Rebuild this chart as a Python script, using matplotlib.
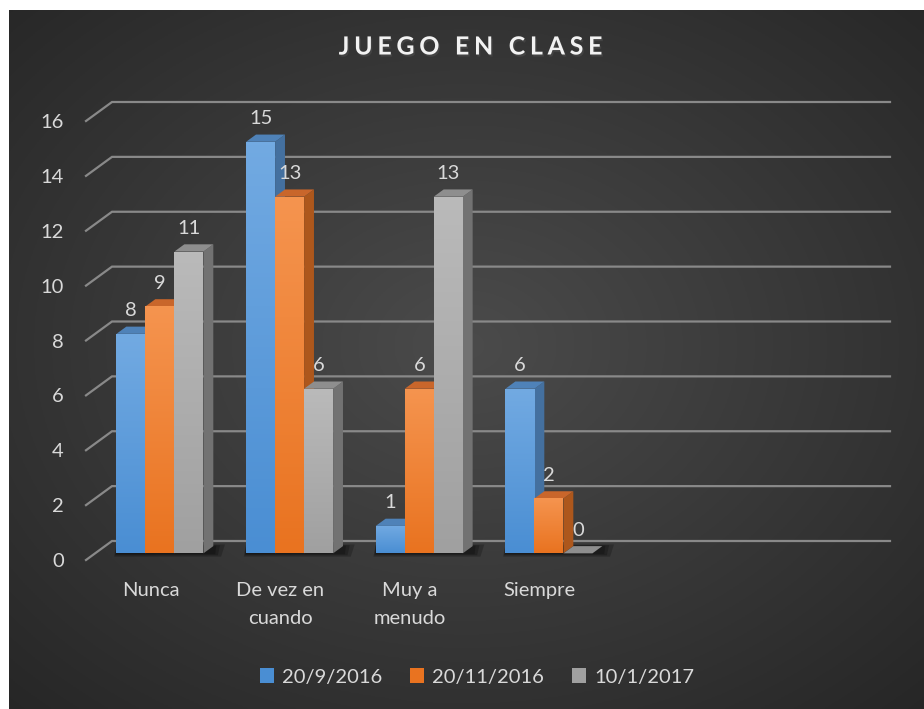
import numpy as np
import matplotlib
matplotlib.use('Agg')
import matplotlib.pyplot as plt
import matplotlib.patheffects as pe
from matplotlib.patches import Polygon, Rectangle, Patch
from matplotlib.colors import LinearSegmentedColormap, to_rgb

# data
categories = ['Nunca', 'De vez en\ncuando', 'Muy a\nmenudo', 'Siempre']
series_names = ['20/9/2016', '20/11/2016', '10/1/2017']
serie_1 = [8, 15, 1, 6]
serie_2 = [9, 13, 6, 2]
serie_3 = [11, 6, 13, 0]
y_ticks = [0, 2, 4, 6, 8, 10, 12, 14, 16]

# front / top / side colours for each series
front_top = ['#72aae2', '#f5944f', '#bababa']
front_bot = ['#4a8ed3', '#e97320', '#a0a0a0']
side_col = ['#44709f', '#ad571c', '#727272']
top_col = ['#4f82b8', '#c9662b', '#8e8e8e']

txt_col = '#d9d9d9'
fs = 14.5
plt.rcParams['font.family'] = ['Lato', 'DejaVu Sans']

W, H = 924, 709
fig = plt.figure(figsize=(W / 100, H / 100), dpi=100, facecolor='white')

# dark radial background
bg = fig.add_axes([9 / W, 0, 1 - 9 / W, 1 - 10 / H])
bg.axis('off')
ny, nx = 350, 460
yy, xx = np.mgrid[0:1:ny * 1j, 0:1:nx * 1j]
r = np.sqrt(((xx - 0.5) / 0.75) ** 2 + ((yy - 0.52) / 0.75) ** 2)
r = np.clip(r, 0, 1)
c_in = np.array(to_rgb('#4b4b4b'))
c_out = np.array(to_rgb('#252525'))
img = c_in[None, None, :] * (1 - r[..., None]) + c_out[None, None, :] * r[..., None]
bg.imshow(img, aspect='auto', extent=[0, 1, 0, 1], origin='lower')
bg.set_xlim(0, 1)
bg.set_ylim(0, 1)

# plot area (front plane of the floor)
ax = fig.add_axes([86 / W, (H - 560) / H, 778 / W, 439 / H])
ax.patch.set_alpha(0)
for s in ax.spines.values():
    s.set_visible(False)

px_x = 778 / 6.0
px_y = 439 / 16.0
Dx, Dy = 26 / px_x, 19 / px_y        # full floor depth
f0, f1 = 0.35, 0.73                  # bars sit between these depths
bw = 29 / px_x

# gridlines with the 3d step on the left
for v in y_ticks:
    ax.plot([-0.5, -0.5 + Dx, 5.5 + Dx], [v, v + Dy, v + Dy], color='#898989',
            lw=1.6, clip_on=False, zorder=1, solid_joinstyle='miter')

series = [serie_1, serie_2, serie_3]
bx0, by0 = f0 * Dx, f0 * Dy
ddx, ddy = (f1 - f0) * Dx, (f1 - f0) * Dy

# soft shadows on the floor
for i in range(len(categories)):
    xl = i - 1.5 * bw + bx0
    xr = i + 1.5 * bw + bx0 + ddx
    for k, grow in enumerate([0.06, 0.035, 0.015]):
        ax.add_patch(Polygon([(xl - grow * 0.3, by0 - grow * 2), (xr + grow, by0 - grow * 2),
                              (xr + grow * 1.5, by0 + ddy + grow), (xl, by0 + ddy + grow)],
                             closed=True, facecolor='black', alpha=0.22, lw=0, zorder=2))

grad = np.linspace(0, 1, 100).reshape(-1, 1)
z = 3
for j, vals in enumerate(series):
    cmap = LinearSegmentedColormap.from_list('g%d' % j, [front_bot[j], front_top[j]])
    for i, v in enumerate(vals):
        xc = i + (j - 1) * bw + bx0
        xl, xr = xc - bw / 2, xc + bw / 2
        b = by0
        zz = z + i * 10 + j * 3
        # side
        ax.add_patch(Polygon([(xr, b), (xr + ddx, b + ddy), (xr + ddx, b + v + ddy), (xr, b + v)],
                             closed=True, facecolor=side_col[j], lw=0, zorder=zz))
        # top
        ax.add_patch(Polygon([(xl, b + v), (xr, b + v), (xr + ddx, b + v + ddy), (xl + ddx, b + v + ddy)],
                             closed=True, facecolor=top_col[j], lw=0, zorder=zz + 0.5))
        # front with gradient
        if v > 0:
            rect = Rectangle((xl, b), bw, v, facecolor='none', lw=0, zorder=zz + 1)
            ax.add_patch(rect)
            im = ax.imshow(grad, extent=[xl, xr, b, b + v], origin='lower', aspect='auto',
                           cmap=cmap, zorder=zz + 1)
            im.set_clip_path(rect)
        ax.annotate(str(v), (xc, b + v), xytext=(0, 16.5), textcoords='offset points',
                    ha='center', va='center', fontsize=fs, color=txt_col, zorder=100)

ax.set_xlim(-0.5, 5.5)
ax.set_ylim(0, 16)
ax.set_yticks(y_ticks)
ax.set_xticks(range(len(categories)))
ax.set_xticklabels(categories)
for t in ax.get_xticklabels():
    t.set_linespacing(1.75)
ax.tick_params(axis='y', length=0, pad=16, labelsize=fs, labelcolor=txt_col)
ax.tick_params(axis='x', length=0, pad=16, labelsize=fs, labelcolor=txt_col)

# title
title = '\u2009\u200a'.join('JUEGO EN CLASE')
fig.text(471 / W, 1 - 47 / H, title, ha='center', va='center', fontsize=18,
         fontweight='bold', color='#f2f2f2',
         path_effects=[pe.withSimplePatchShadow(offset=(1, -1.5), alpha=0.7)])

# legend
handles = [Patch(facecolor=front_bot[j], edgecolor='none', label=series_names[j]) for j in range(3)]
fig.legend(handles=handles, loc='center', bbox_to_anchor=(477 / W, 1 - 677 / H), ncol=3,
           frameon=False, fontsize=fs, labelcolor=txt_col, handlelength=0.7,
           handleheight=0.7, handletextpad=0.4, columnspacing=1.4)

fig.savefig('out.png', dpi=100, facecolor='white')
